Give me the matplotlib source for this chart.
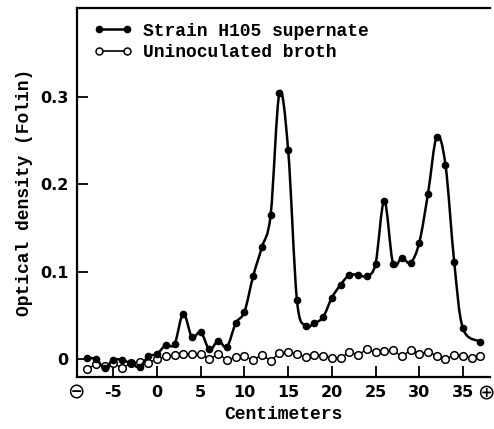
import numpy as np
import matplotlib
matplotlib.use("Agg")
import matplotlib.pyplot as plt
from matplotlib.path import Path
from matplotlib.patches import PathPatch

# Data (cm from origin, optical density)
strain_x = list(range(-8, 36)) + [37]
strain_y = [0.001, 0.000, -0.010, -0.001, -0.001, -0.005, -0.009, 0.003,
            0.006, 0.016, 0.017, 0.052, 0.025, 0.031, 0.011, 0.021,
            0.014, 0.041, 0.054, 0.095, 0.128, 0.165, 0.304, 0.239,
            0.068, 0.038, 0.041, 0.048, 0.070, 0.085, 0.096, 0.096,
            0.095, 0.109, 0.181, 0.109, 0.116, 0.110, 0.133, 0.189,
            0.254, 0.222, 0.111, 0.035, 0.020]

broth_x = list(range(-8, 38))
broth_y = [-0.011, -0.006, -0.008, -0.005, -0.010, -0.005, -0.003, -0.004,
           0.000, 0.003, 0.005, 0.006, 0.006, 0.006, 0.000, 0.006,
           -0.001, 0.002, 0.003, -0.001, 0.005, -0.002, 0.007, 0.008,
           0.006, 0.002, 0.005, 0.004, 0.001, 0.001, 0.008, 0.005,
           0.011, 0.008, 0.009, 0.010, 0.003, 0.010, 0.006, 0.008,
           0.004, 0.000, 0.005, 0.004, 0.001, 0.003]

xticks = [-5, 0, 5, 10, 15, 20, 25, 30, 35]
yticks = [0, 0.1, 0.2, 0.3]
yticklabels = ["0", "0.1", "0.2", "0.3"]

txt_font = "Liberation Mono"


def smooth_path(xs, ys):
    # Catmull-Rom curve through the points, drawn as cubic Bezier segments
    p = np.column_stack([xs, ys]).astype(float)
    p = np.vstack([p[0], p, p[-1]])
    verts = [p[1]]
    codes = [Path.MOVETO]
    for i in range(1, len(p) - 2):
        c1 = p[i] + (p[i + 1] - p[i - 1]) / 6.0
        c2 = p[i + 1] - (p[i + 2] - p[i]) / 6.0
        verts += [c1, c2, p[i + 1]]
        codes += [Path.CURVE4] * 3
    return Path(verts, codes)


fig = plt.figure(figsize=(4.94, 4.29), dpi=100)
ax = fig.add_axes([0.156, 0.121, 0.836, 0.860])

ax.plot(broth_x, broth_y, "-o", color="black", lw=1.0, ms=5.5,
        mfc="white", mec="black", mew=1.1, zorder=2)

ax.add_patch(PathPatch(smooth_path(strain_x, strain_y), fc="none",
                       ec="black", lw=1.8, zorder=3))
ax.plot(strain_x, strain_y, "o", color="black", ms=4.5, zorder=4)

# legend handles
h1, = ax.plot([], [], "-o", color="black", lw=1.8, ms=4.5)
h2, = ax.plot([], [], "-o", color="black", lw=1.2, ms=5, mfc="white", mew=1.1)
ax.legend([h1, h2], ["Strain H105 supernate", "Uninoculated broth"],
          loc="upper left", bbox_to_anchor=(0.01, 0.995), frameon=False,
          numpoints=2, handlelength=2.15, handletextpad=0.55,
          labelspacing=0.25, borderaxespad=0.3,
          prop={"family": txt_font, "size": 13, "weight": "bold"})

ax.set_xlim(-9.15, 38.1)
ax.set_ylim(-0.0206, 0.401)
ax.set_xticks(xticks)
ax.set_xticklabels([str(v) for v in xticks], fontsize=11.5, fontweight="bold",
                   family="DejaVu Sans")
ax.set_yticks(yticks)
ax.set_yticklabels(yticklabels, fontsize=11.5, fontweight="bold",
                   family="DejaVu Sans")
ax.tick_params(direction="in", length=8, width=1.3, pad=6)

ax.spines["right"].set_visible(False)
for s in ["left", "bottom", "top"]:
    ax.spines[s].set_linewidth(1.6)

ax.set_xlabel("Centimeters", family=txt_font, fontsize=13, fontweight="bold",
              labelpad=4)
ax.set_ylabel("Optical density (Folin)", family=txt_font, fontsize=13,
              fontweight="bold", labelpad=5)

ax.text(-9.3, -0.038, "\u2296", fontsize=15, ha="center", va="center",
        family="DejaVu Sans")
ax.text(37.6, -0.038, "\u2295", fontsize=15, ha="center", va="center",
        family="DejaVu Sans")

fig.savefig("out.png", dpi=100)
